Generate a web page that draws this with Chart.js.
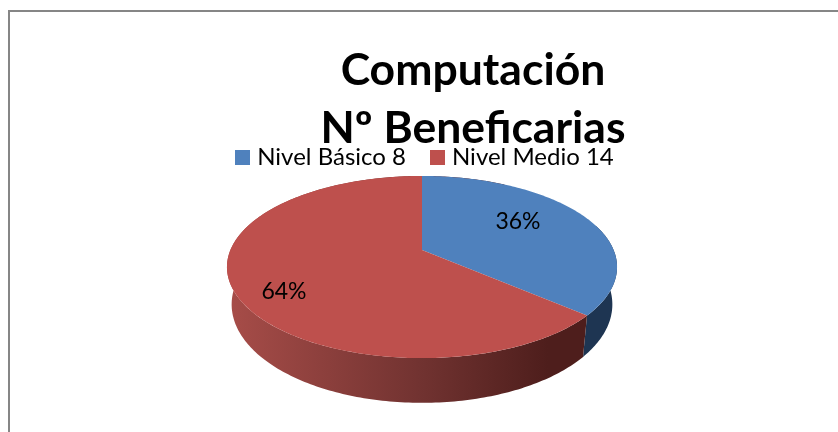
<!DOCTYPE html>
<html>
<head>
<meta charset="utf-8">
<title>Computación</title>
<script src="https://cdn.jsdelivr.net/npm/chart.js@4"></script>
<style>
  html, body { margin: 0; background: #fff; overflow: hidden; }
  #marco { position: absolute; left: 8px; top: 10px; width: 840px; height: 430px;
           border-left: 2px solid #868686; border-top: 2px solid #868686; }
  #grafico { position: absolute; left: 0; top: 0; display: block; }
</style>
</head>
<body>
<div id="marco"></div>
<canvas id="grafico" width="838" height="432"></canvas>
<script>
const categorias = ["Nivel Básico", "Nivel Medio"];
const beneficiarias = [8, 14];
const titulo = ["Computación", "Nº Beneficarias"];
const coloresCara = ["#4F81BD", "#BE504D"];

// Perspectiva de la torta: cara superior e inferior del cilindro
const caraSup = { r: 191.6, s: 87.9, cy: 250, k: 0.187 };
const caraInf = { r: 187, s: 95, cy: 286, k: 0.187 };
const posEtiquetas = [{ x: 518, y: 222 }, { x: 284, y: 292 }];

function proyectar(cx, cara, angulo) {
  const u = Math.cos(angulo);
  const v = Math.sin(angulo);
  const w = 1 - cara.k * v;
  return { x: cx + cara.r * u / w, y: cara.cy + cara.s * v / w };
}

function muestrear(cx, cara, ini, fin) {
  const puntos = [];
  const pasos = Math.max(2, Math.ceil(Math.abs(fin - ini) * 60));
  for (let i = 0; i <= pasos; i++) {
    puntos.push(proyectar(cx, cara, ini + (fin - ini) * i / pasos));
  }
  return puntos;
}

// cuadradito de la leyenda, mas ancho que el boxWidth para dejar el texto pegado
function cuadrito(color) {
  const c = document.createElement("canvas");
  c.width = 15;
  c.height = 15;
  const g = c.getContext("2d");
  g.fillStyle = color;
  g.fillRect(0, 0, 15, 15);
  return c;
}

const torta3d = {
  id: "torta3d",
  afterLayout(chart) {
    // el titulo y la leyenda van corridos a la derecha respecto de la torta
    chart.titleBlock.left += 51;
    chart.titleBlock.right += 51;
    chart.legend.left += 5;
    chart.legend.right += 5;
  },
  beforeDatasetDraw(chart, args) {
    const ctx = chart.ctx;
    const arcos = args.meta.data;
    const cx = arcos[0].x;
    const limite = arcos[0].endAngle;

    ctx.save();
    // costado: solo la parte de adelante, el resto queda tapado por la cara superior
    const tramos = [[-0.3, limite], [limite, Math.PI * 5 / 3]];
    tramos.forEach(([desde, hasta], i) => {
      const sup = muestrear(cx, caraSup, desde, hasta);
      const inf = muestrear(cx, caraInf, desde, hasta).reverse();
      ctx.beginPath();
      sup.concat(inf).forEach((p, j) => j ? ctx.lineTo(p.x, p.y) : ctx.moveTo(p.x, p.y));
      ctx.closePath();
      if (i === 0) {
        ctx.fillStyle = "#1E3552";
      } else {
        const g = ctx.createLinearGradient(232, 0, 583, 0);
        g.addColorStop(0, "#A64C48");
        g.addColorStop(0.55, "#703230");
        g.addColorStop(0.9, "#4E1E1C");
        g.addColorStop(1, "#4E1E1C");
        ctx.fillStyle = g;
      }
      ctx.fill();
    });
    // cara superior
    arcos.forEach((arco) => {
      const borde = muestrear(cx, caraSup, arco.startAngle, arco.endAngle);
      ctx.beginPath();
      ctx.moveTo(cx, caraSup.cy);
      borde.forEach(p => ctx.lineTo(p.x, p.y));
      ctx.closePath();
      ctx.fillStyle = arco.options.backgroundColor;
      ctx.fill();
    });
    // porcentajes
    const total = beneficiarias.reduce((a, b) => a + b, 0);
    ctx.fillStyle = "#000";
    ctx.font = "23px Lato";
    ctx.textAlign = "center";
    ctx.textBaseline = "middle";
    beneficiarias.forEach((valor, i) => {
      ctx.fillText(Math.round(valor / total * 100) + "%", posEtiquetas[i].x, posEtiquetas[i].y);
    });
    ctx.restore();
    return false;
  }
};

new Chart(document.getElementById("grafico"), {
  type: "pie",
  data: {
    labels: categorias,
    datasets: [{ data: beneficiarias, backgroundColor: coloresCara, borderWidth: 0 }]
  },
  options: {
    responsive: false,
    animation: false,
    layout: { padding: { left: 6 } },
    plugins: {
      tooltip: { enabled: false },
      title: {
        display: true,
        text: titulo,
        color: "#000",
        font: { family: "Lato", size: 44.5, weight: "bold", lineHeight: 1.3 },
        padding: { top: 42, bottom: -41 }
      },
      legend: {
        position: "top",
        labels: {
          color: "#000",
          font: { family: "Lato", size: 24 },
          usePointStyle: true,
          pointStyleWidth: 5,
          boxHeight: 15,
          padding: 29,
          generateLabels(chart) {
            return categorias.map((c, i) => ({
              text: c + " " + beneficiarias[i],
              pointStyle: cuadrito(coloresCara[i]),
              fillStyle: coloresCara[i],
              strokeStyle: coloresCara[i],
              lineWidth: 0,
              index: i
            }));
          }
        }
      }
    }
  },
  plugins: [torta3d]
});
</script>
</body>
</html>
